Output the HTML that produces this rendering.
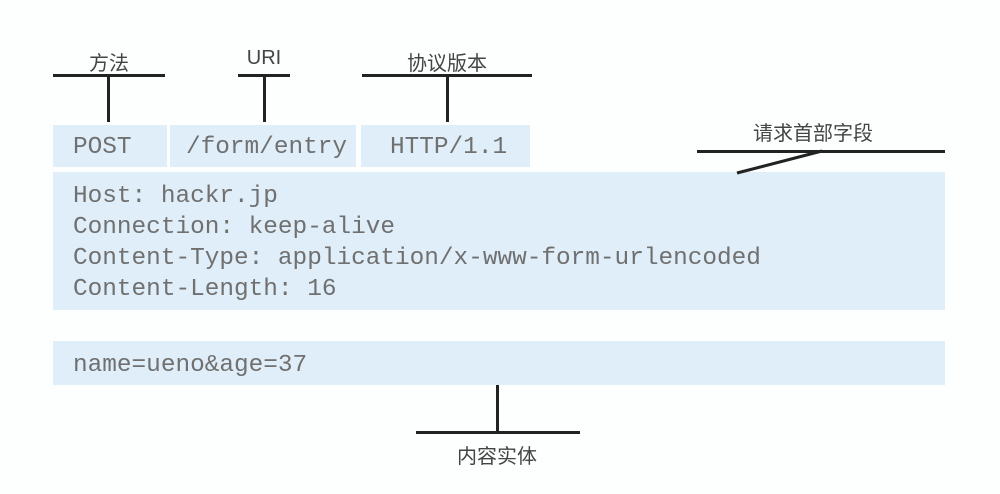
<!DOCTYPE html>
<html><head><meta charset="utf-8"><style>
body{margin:0;width:1000px;height:494px;background:#fdfefe;position:relative;overflow:hidden;font-family:"Liberation Sans","Noto Sans CJK SC",sans-serif}
.b{position:absolute;background:#dfeef8}
.t{position:absolute;font-family:"Liberation Mono",monospace;font-size:24.4px;color:#707070;white-space:pre;line-height:31px}
.l{position:absolute;font-size:20px;color:#444;white-space:nowrap;transform:translateX(-50%)}
.h{position:absolute;height:3px;background:#222}
.v{position:absolute;width:3px;background:#222}
</style></head><body>
<div class="b" style="left:53px;top:125px;width:114px;height:42px"></div>
<div class="b" style="left:170px;top:125px;width:186px;height:42px"></div>
<div class="b" style="left:361px;top:125px;width:169px;height:42px"></div>
<div class="b" style="left:53px;top:172px;width:892px;height:138px"></div>
<div class="b" style="left:53px;top:341px;width:892px;height:44px"></div>

<div class="t" style="left:73px;top:132px">POST</div>
<div class="t" style="left:186px;top:132px">/form/entry</div>
<div class="t" style="left:390px;top:132px">HTTP/1.1</div>
<div class="t" style="left:73px;top:181px">Host: hackr.jp
Connection: keep-alive
Content-Type: application/x-www-form-urlencoded
Content-Length: 16</div>
<div class="t" style="left:73px;top:350px">name=ueno&amp;age=37</div>

<div class="l" style="left:109px;top:47px">方法</div>
<div class="l" style="left:264px;top:47px">URI</div>
<div class="l" style="left:447px;top:47px">协议版本</div>
<div class="l" style="left:813px;top:117px">请求首部字段</div>
<div class="l" style="left:497px;top:440px">内容实体</div>

<div class="h" style="left:53px;top:74px;width:112px"></div>
<div class="v" style="left:107px;top:74px;height:48px"></div>
<div class="h" style="left:238px;top:74px;width:52px"></div>
<div class="v" style="left:263px;top:74px;height:48px"></div>
<div class="h" style="left:362px;top:74px;width:170px"></div>
<div class="v" style="left:446px;top:74px;height:48px"></div>
<div class="h" style="left:697px;top:150px;width:248px"></div>
<svg style="position:absolute;left:0;top:0" width="1000" height="494"><line x1="822" y1="151" x2="737" y2="173" stroke="#222" stroke-width="3"/></svg>
<div class="v" style="left:496px;top:385px;height:48px"></div>
<div class="h" style="left:416px;top:431px;width:164px"></div>
</body></html>
